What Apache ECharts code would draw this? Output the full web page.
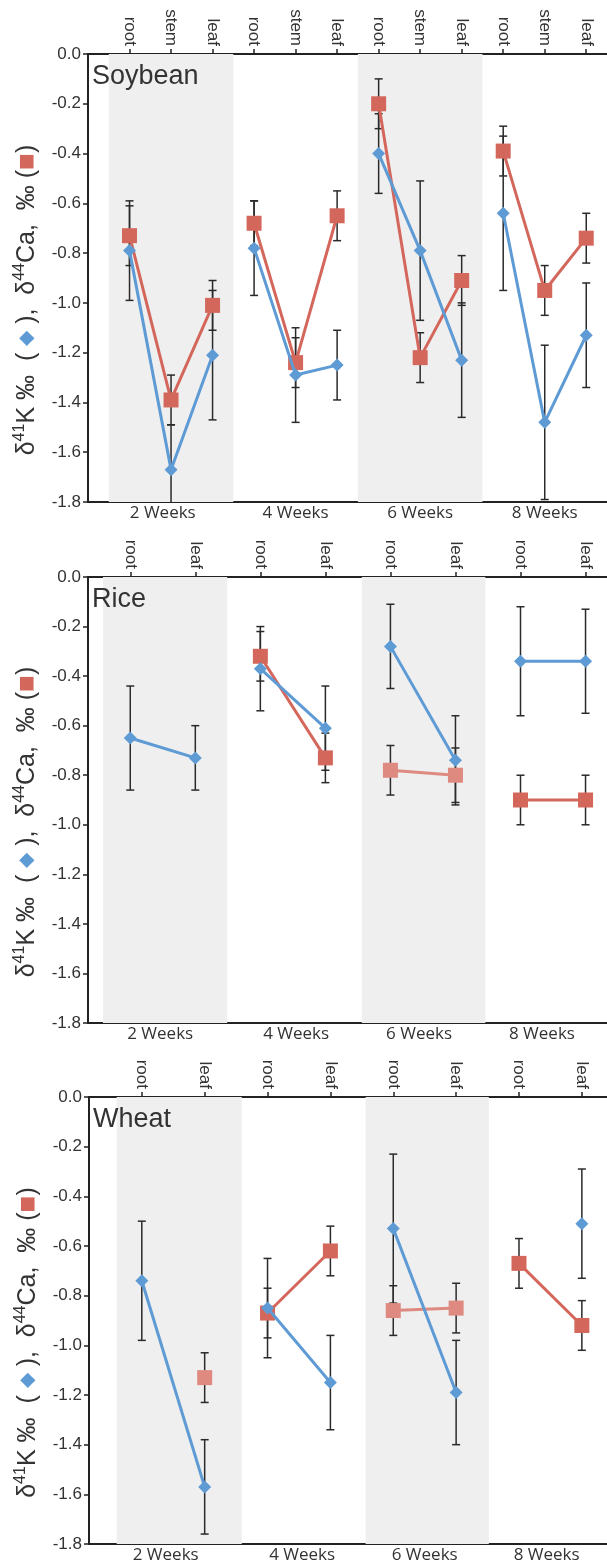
<!DOCTYPE html>
<html>
<head>
<meta charset="utf-8">
<script src="https://cdn.jsdelivr.net/npm/echarts@6/dist/echarts.min.js"></script>
<style>
  html, body { margin: 0; padding: 0; background: #fff; }
  #chart { width: 607px; height: 1568px; }
</style>
</head>
<body>
<div id="chart"></div>
<script>
// --- data ---
const weekNames = ['2 Weeks', '4 Weeks', '6 Weeks', '8 Weeks'];
const panelNames = ['Soybean', 'Rice', 'Wheat'];

const soyOrgans = ['root', 'stem', 'leaf', 'root', 'stem', 'leaf', 'root', 'stem', 'leaf', 'root', 'stem', 'leaf'];
const soyPos = [0, 1, 2, 3, 4, 5, 6, 7, 8, 9, 10, 11];
const soyWeekPos = [0.8, 4, 7, 10];
const soyBands = [[-0.5, 2.5], [5.5, 8.5]];
const soyBlue = [-0.79, -1.67, -1.21, -0.78, -1.29, -1.25, -0.40, -0.79, -1.23, -0.64, -1.48, -1.13];
const soyBlueErr = [0.20, 0.18, 0.26, 0.19, 0.19, 0.14, 0.16, 0.28, 0.23, 0.31, 0.31, 0.21];
const soyRed = [-0.73, -1.39, -1.01, -0.68, -1.24, -0.65, -0.20, -1.22, -0.91, -0.39, -0.95, -0.74];
const soyRedErr = [0.12, 0.10, 0.10, 0.09, 0.10, 0.10, 0.10, 0.10, 0.10, 0.10, 0.10, 0.10];

const riceOrgans = ['root', 'leaf', 'root', 'leaf', 'root', 'leaf', 'root', 'leaf'];
const ricePos = [0, 1, 2, 3, 4, 5, 6, 7];
const riceWeekPos = [0.46, 2.55, 4.44, 6.33];
const riceBands = [[-0.42, 1.49], [3.56, 5.46]];
const riceBlue = [-0.65, -0.73, -0.37, -0.61, -0.28, -0.74, -0.34, -0.34];
const riceBlueErr = [0.21, 0.13, 0.17, 0.17, 0.17, 0.18, 0.22, 0.21];
const riceRed = [null, null, -0.32, -0.73, -0.78, -0.80, -0.90, -0.90];
const riceRedErr = [null, null, 0.10, 0.10, 0.10, 0.11, 0.10, 0.10];

const wheatOrgans = ['root', 'leaf', 'root', 'leaf', 'root', 'leaf', 'root', 'leaf'];
const wheatPos = [0, 1, 2, 3, 4, 5, 6, 7];
const wheatWeekPos = [0.38, 2.55, 4.5, 6.44];
const wheatBands = [[-0.4, 1.59], [3.56, 5.52]];
const wheatBlue = [-0.74, -1.57, -0.85, -1.15, -0.53, -1.19, null, -0.51];
const wheatBlueErr = [0.24, 0.19, 0.20, 0.19, 0.30, 0.21, null, 0.22];
const wheatRed = [null, -1.13, -0.87, -0.62, -0.86, -0.85, -0.67, -0.92];
const wheatRedErr = [null, 0.10, 0.10, 0.10, 0.10, 0.10, 0.10, 0.10];

// --- styling ---
const BLUE = '#5e9bd5';
const RED = '#d4675c';
const RED_LIGHT = '#df8a80';
const INK = '#222';
const TXT = '#333';
const SANS = '"Liberation Sans", Arial, sans-serif';

const panels = [
  { name: panelNames[0], organs: soyOrgans, pos: soyPos, weekPos: soyWeekPos, bands: soyBands,
    blue: soyBlue, blueErr: soyBlueErr, red: soyRed, redErr: soyRedErr, per: 3,
    redShade: [RED, RED, RED, RED],
    grid: { left: 88, top: 54, width: 519, height: 448 }, min: -1, max: 11.5 },
  { name: panelNames[1], organs: riceOrgans, pos: ricePos, weekPos: riceWeekPos, bands: riceBands,
    blue: riceBlue, blueErr: riceBlueErr, red: riceRed, redErr: riceRedErr, per: 2,
    redShade: [RED, RED, RED_LIGHT, RED],
    grid: { left: 88, top: 577, width: 519, height: 446 }, min: -0.65, max: 7.33 },
  { name: panelNames[2], organs: wheatOrgans, pos: wheatPos, weekPos: wheatWeekPos, bands: wheatBands,
    blue: wheatBlue, blueErr: wheatBlueErr, red: wheatRed, redErr: wheatRedErr, per: 2,
    redShade: [RED_LIGHT, RED, RED_LIGHT, RED],
    grid: { left: 89, top: 1097, width: 518, height: 447 }, min: -0.84, max: 7.4 }
];

const yName = '{d|δ}{sup|41}{t|K ‰  ( }{b|◆}{t| ),  }{d|δ}{sup|44}{t|Ca,  ‰ (}{r|■}{t|)}';

function pickLabel(list, pos) {
  return v => {
    const k = pos.findIndex(p => Math.abs(p - v) < 1e-6);
    return k >= 0 ? list[k] : '';
  };
}

const grids = [], xAxes = [], yAxes = [], series = [], titles = [];

panels.forEach((p, i) => {
  grids.push(Object.assign({ containLabel: false }, p.grid));

  titles.push({
    text: p.name, left: p.grid.left + 4, top: p.grid.top + 9, padding: 0,
    textStyle: { fontSize: 27, fontWeight: 'normal', color: TXT, fontFamily: SANS }
  });

  // top axis: organ labels
  xAxes.push({
    gridIndex: i, type: 'value', position: 'top', min: p.min, max: p.max,
    axisLine: { show: true, onZero: false, lineStyle: { color: INK, width: 2 } },
    axisTick: { show: true, inside: false, length: 5, customValues: p.pos, lineStyle: { color: INK, width: 1.5 } },
    axisLabel: { customValues: p.pos, rotate: 90, margin: 8, fontSize: 17, color: TXT, fontFamily: SANS,
      formatter: pickLabel(p.organs, p.pos) },
    splitLine: { show: false }
  });
  // bottom axis: week labels
  xAxes.push({
    gridIndex: i, type: 'value', position: 'bottom', min: p.min, max: p.max,
    axisLine: { show: true, onZero: false, lineStyle: { color: INK, width: 2 } },
    axisTick: { show: false },
    axisLabel: { customValues: p.weekPos, margin: 3, fontSize: 17, color: TXT, fontFamily: '"Open Sans", sans-serif',
      formatter: pickLabel(weekNames, p.weekPos) },
    splitLine: { show: false }
  });

  yAxes.push({
    gridIndex: i, type: 'value', min: -1.8, max: 0, interval: 0.2,
    axisLine: { show: true, onZero: false, lineStyle: { color: INK, width: 2 } },
    axisTick: { show: true, length: 5, lineStyle: { color: INK, width: 1.5 } },
    axisLabel: { margin: 7, fontSize: 17, color: TXT, fontFamily: SANS, formatter: v => v.toFixed(1) },
    splitLine: { show: false },
    name: yName, nameLocation: 'middle', nameRotate: 90, nameGap: 46,
    nameTextStyle: {
      padding: [0, 44, 0, 0],
      rich: {
        t: { fontSize: 25, color: TXT, fontFamily: SANS, lineHeight: 30 },
        d: { fontSize: 25, color: TXT, fontFamily: SANS, lineHeight: 30 },
        sup: { fontSize: 16, color: TXT, fontFamily: SANS, verticalAlign: 'top', lineHeight: 16 },
        b: { fontSize: 20, color: BLUE, lineHeight: 30 },
        r: { fontSize: 28, color: RED, lineHeight: 30 }
      }
    }
  });

  const xBot = 2 * i + 1;

  // shaded week bands
  series.push({
    type: 'line', xAxisIndex: xBot, yAxisIndex: i, data: [], z: 0, silent: true,
    markArea: { silent: true, itemStyle: { color: '#efefef' },
      data: p.bands.map(b => [{ xAxis: b[0] }, { xAxis: b[1] }]) }
  });

  // error bars
  const errData = [];
  p.pos.forEach((x, k) => {
    if (p.blue[k] != null) errData.push([x, p.blue[k] - p.blueErr[k], p.blue[k] + p.blueErr[k]]);
    if (p.red[k] != null) errData.push([x, p.red[k] - p.redErr[k], p.red[k] + p.redErr[k]]);
  });
  series.push({
    type: 'custom', xAxisIndex: xBot, yAxisIndex: i, data: errData, z: 1, clip: true, silent: true,
    renderItem: (params, api) => {
      const top = api.coord([api.value(0), api.value(2)]);
      const bot = api.coord([api.value(0), api.value(1)]);
      const cap = 4;
      const st = { stroke: '#2a2a2a', lineWidth: 1.5 };
      return {
        type: 'group', children: [
          { type: 'line', shape: { x1: top[0], y1: top[1], x2: bot[0], y2: bot[1] }, style: st },
          { type: 'line', shape: { x1: top[0] - cap, y1: top[1], x2: top[0] + cap, y2: top[1] }, style: st },
          { type: 'line', shape: { x1: bot[0] - cap, y1: bot[1], x2: bot[0] + cap, y2: bot[1] }, style: st }
        ]
      };
    }
  });

  // lines per week group
  for (let g = 0; g < 4; g++) {
    const idx = [];
    for (let k = g * p.per; k < (g + 1) * p.per; k++) idx.push(k);
    const bluePts = idx.filter(k => p.blue[k] != null).map(k => [p.pos[k], p.blue[k]]);
    const redPts = idx.filter(k => p.red[k] != null).map(k => [p.pos[k], p.red[k]]);
    series.push({
      type: 'line', xAxisIndex: xBot, yAxisIndex: i, data: bluePts, z: 3,
      symbol: 'diamond', symbolSize: 13, showAllSymbol: true,
      lineStyle: { color: BLUE, width: 3 }, itemStyle: { color: BLUE }, silent: true
    });
    series.push({
      type: 'line', xAxisIndex: xBot, yAxisIndex: i, data: redPts, z: 2,
      symbol: 'rect', symbolSize: 15, showAllSymbol: true,
      lineStyle: { color: p.redShade[g], width: 3 }, itemStyle: { color: p.redShade[g] }, silent: true
    });
  }
});

const chart = echarts.init(document.getElementById('chart'), null, { renderer: 'canvas' });
chart.setOption({
  animation: false,
  backgroundColor: '#fff',
  title: titles,
  grid: grids,
  xAxis: xAxes,
  yAxis: yAxes,
  series: series
});
</script>
</body>
</html>
